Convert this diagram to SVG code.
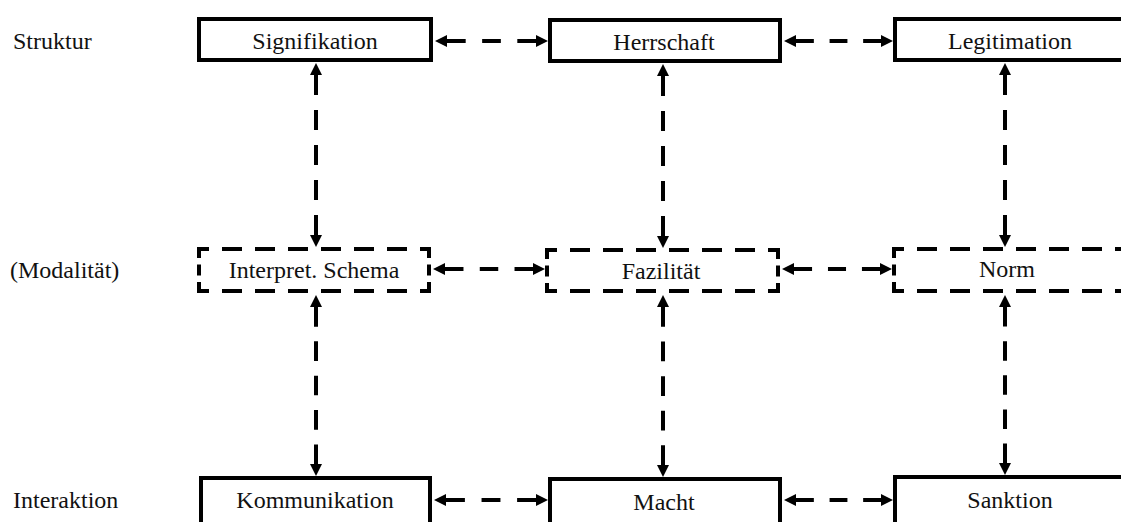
<svg xmlns="http://www.w3.org/2000/svg" width="1121" height="522" viewBox="0 0 1121 522">
<defs>
<style>
.box{fill:#fff;stroke:#000;stroke-width:4}
.dh{fill:none;stroke:#000;stroke-width:4;stroke-linecap:square;stroke-dasharray:16 17;stroke-dashoffset:8}
.dv{fill:none;stroke:#000;stroke-width:4;stroke-linecap:square;stroke-dasharray:7 10.5}
.t{font-family:"Liberation Serif","Times New Roman",serif;font-size:24px;fill:#111}
.c{text-anchor:middle}
.h{fill:none;stroke:#000;stroke-width:4;stroke-dasharray:21 18.5;marker-start:url(#ah);marker-end:url(#ah)}
.v{fill:none;stroke:#000;stroke-width:4;stroke-dasharray:20 15;marker-start:url(#ah);marker-end:url(#ah)}
</style>
<marker id="ah" markerUnits="userSpaceOnUse" markerWidth="12" markerHeight="12" refX="0" refY="6" orient="auto-start-reverse" viewBox="0 0 12 12">
<path d="M0,0 L12,6 L0,12 z" fill="#000"/>
</marker>
</defs>
<rect width="1121" height="522" fill="#fff"/>
<g id="labels">
<text class="t" x="13" y="49">Struktur</text>
<text class="t" x="10" y="278">(Modalität)</text>
<text class="t" x="13" y="508">Interaktion</text>
</g>
<g id="connectors">
<line class="h" x1="447" y1="41" x2="536" y2="41" pathLength="100"/>
<line class="h" x1="796" y1="41" x2="881" y2="41" pathLength="100"/>
<line class="h" x1="445" y1="269" x2="533" y2="269" pathLength="100"/>
<line class="h" x1="794" y1="269" x2="880" y2="269" pathLength="100"/>
<line class="h" x1="446" y1="500" x2="536" y2="500" pathLength="100"/>
<line class="h" x1="796" y1="500" x2="881" y2="500" pathLength="100"/>
<line class="v" x1="316" y1="75" x2="316" y2="235" pathLength="160"/>
<line class="v" x1="316" y1="307" x2="316" y2="464" pathLength="160"/>
<line class="v" x1="663" y1="76" x2="663" y2="236" pathLength="160"/>
<line class="v" x1="663" y1="307" x2="663" y2="465" pathLength="160"/>
<line class="v" x1="1005" y1="75" x2="1005" y2="235" pathLength="160"/>
<line class="v" x1="1005" y1="307" x2="1005" y2="463" pathLength="160"/>
</g>
<g id="signifikation">
<rect class="box" x="199" y="19" width="232" height="41"/>
<text class="t c" x="315" y="49">Signifikation</text>
</g>
<g id="herrschaft">
<rect class="box" x="550" y="20" width="230" height="41"/>
<text class="t c" x="664" y="50">Herrschaft</text>
</g>
<g id="legitimation">
<rect class="box" x="895" y="19" width="240" height="41"/>
<text class="t c" x="1010" y="49">Legitimation</text>
</g>
<g id="interpret-schema">
<path class="dh" d="M199,249 H429 M199,291 H429"/>
<path class="dv" d="M199,249 V291 M429,249 V291"/>
<text class="t c" x="314" y="278">Interpret. Schema</text>
</g>
<g id="fazilitaet">
<path class="dh" d="M547,250 H778 M547,291 H778"/>
<path class="dv" d="M547,250 V291 M778,250 V291"/>
<text class="t c" x="661" y="279">Fazilität</text>
</g>
<g id="norm">
<path class="dh" d="M894,249 H1134 M894,291 H1134"/>
<path class="dv" d="M894,249 V291"/>
<text class="t c" x="1007" y="277">Norm</text>
</g>
<g id="kommunikation">
<rect class="box" x="201" y="478" width="229" height="60"/>
<text class="t c" x="315" y="508">Kommunikation</text>
</g>
<g id="macht">
<rect class="box" x="550" y="479" width="230" height="60"/>
<text class="t c" x="664" y="510">Macht</text>
</g>
<g id="sanktion">
<rect class="box" x="895" y="477" width="240" height="60"/>
<text class="t c" x="1010" y="508">Sanktion</text>
</g>
</svg>
